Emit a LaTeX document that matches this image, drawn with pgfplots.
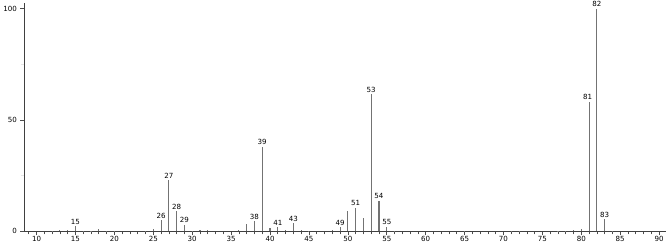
\documentclass[border=0pt]{standalone}
\usepackage{pgfplots}
\pgfplotsset{compat=1.18}
\usepackage{fontspec}
\setmainfont{DejaVu Sans}
\setsansfont{DejaVu Sans}
\begin{document}
\begin{tikzpicture}
\begin{axis}[
  scale only axis,
  width=635pt, height=226pt,
  xmin=8.45, xmax=90.9, ymin=0, ymax=102.5,
  axis x line*=bottom, axis y line*=left,
  axis line style={draw=black!75, line width=0.8pt, -},
  xtick={10,15,...,90}, minor xtick={9,...,90},
  ytick={0,50,100}, minor ytick={25,75},
  tick align=outside,
  major tick length=4pt, minor tick length=3pt,
  tick style={black!70, line width=0.6pt},
  minor y tick style={black!10},
  tick label style={font=\fontsize{7}{8}\selectfont},
  /pgf/number format/assume math mode=true,
  xticklabel style={yshift=3pt},
  clip=false,
]
\addplot[ycomb, draw=black!55, line width=1.1pt] coordinates {
(12,0.3)(13,0.4)(14,0.8)(15,2.4)(16,0.3)(17,0.3)(18,1.0)(19,0.2)(20,0.2)
(24,0.3)(25,1.0)(26,5.1)(27,23)(28,9)(29,3)(30,0.3)(31,0.6)(32,0.5)
(36,0.5)(37,3.3)(38,4.7)(39,38)(40,1.5)(41,2)(42,0.8)(43,3.8)(44,0.4)(45,0.2)
(48,0.8)(49,2)(50,9.3)(51,10.7)(52,6)(53,61.5)(54,13.8)(55,2.1)(56,0.3)
(65,0.2)(71,0.2)(72,0.2)(77,0.3)(78,0.3)(79,0.5)(80,0.9)(81,58.2)(82,100)(83,5.4)(84,0.3)
};
\addplot[draw=none, mark=none, point meta=explicit symbolic,
  nodes near coords,
  nodes near coords style={font=\fontsize{7}{8}\selectfont, anchor=south, inner sep=1.5pt, text=black}]
coordinates {
(15,2.4)[15] (26,5.1)[26] (27,23)[27] (28,9)[28] (29,3)[29]
(38,4.7)[38] (39,38)[39] (41,2)[41] (43,3.8)[43] (49,2)[49]
(51,10.7)[51] (53,61.5)[53] (54,13.8)[54] (55,2.1)[55]
(80.8,58.2)[81] (82,100)[82] (83,5.4)[83]
};
\end{axis}
\end{tikzpicture}
\end{document}
